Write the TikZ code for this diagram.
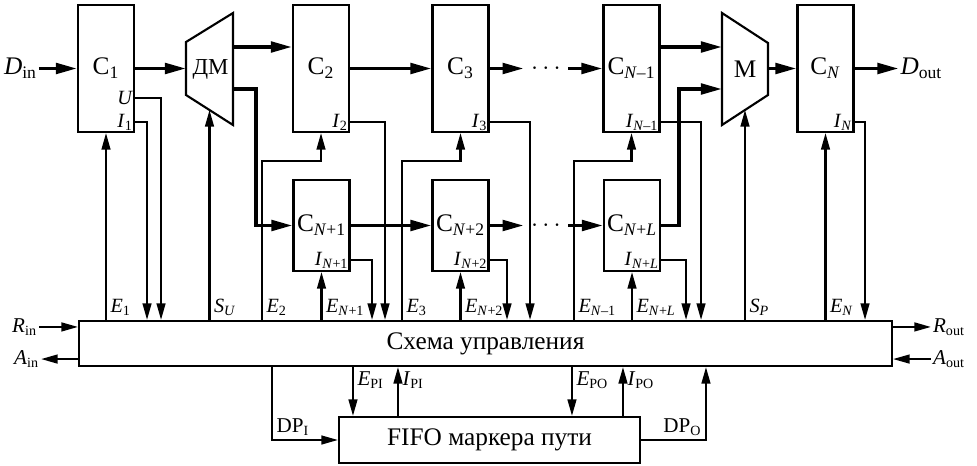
\documentclass[tikz,border=0pt]{standalone}
\usepackage{fontspec}
\setmainfont{Liberation Serif}
\usetikzlibrary{arrows.meta}
\usetikzlibrary{calc}
\usetikzlibrary{positioning}
\newcommand{\sublab}[2]{\textit{#1}\textsubscript{#2}}
\newcommand{\cel}[1]{С\textsubscript{#1}}
\newcommand{\vN}{\textit{N}}
\tikzstyle{cell}=[rectangle,draw,line width=1.2pt,minimum width=1.12cm,minimum height=2.54cm,inner sep=0pt,font=\Large]
\tikzstyle{cellb}=[cell,minimum height=1.82cm]
\tikzstyle{data}=[-{Triangle[length=12pt,width=6pt]},line width=2pt]
\tikzstyle{sarr}=[-{Triangle[length=9.5pt,width=5pt]},line width=1.2pt]
\tikzstyle{lbl}=[inner sep=2pt,font={\fontsize{11.5}{13}\selectfont}]
\tikzstyle{lblb}=[inner sep=2pt,font=\large]
\tikzstyle{dots}=[minimum width=0.88cm,inner sep=0pt,font=\Large]

\begin{document}
\begin{tikzpicture}[x=0.02cm,y=-0.02cm]
    \useasboundingbox (0,0) rectangle (977,466);
    % cells
    \node[cell] (C1) at (106,68.5) {\cel{1}};
    \node[cell] (C2) at (321,68.5) {\cel{2}};
    \node[cell] (C3) at (460.5,68.5) {\cel{3}};
    \node[cell] (CNm1) at (631.5,68.5) {\cel{\vN–1}};
    \node[cell] (CN) at (825.5,68.5) {\cel{\vN}};
    \node[cellb] (CN1) at (321.5,225.5) {\raisebox{3pt}{\cel{\vN+1}}};
    \node[cellb] (CN2) at (460.5,225.5) {\raisebox{3pt}{\cel{\vN+2}}};
    \node[cellb] (CNL) at (632,225.5) {\raisebox{3pt}{\cel{\vN+\textit{L}}}};
    \node[dots] (dotA) at (546,68.5) {$\cdots$};
    \node[dots] (dotB) at (546,225.5) {$\cdots$};
    % demultiplexer and multiplexer
    \coordinate (dmA) at (186,42);
    \coordinate (dmB) at (233,13);
    \coordinate (dmC) at (233,125);
    \coordinate (dmD) at (186,95);
    \draw[line width=1.2pt] (dmA) -- (dmB) -- (dmC) -- (dmD) -- cycle;
    \node[font={\fontsize{13}{15}\selectfont}] (DM) at (210.5,69) {ДМ};
    \coordinate (mA) at (722,13);
    \coordinate (mB) at (768,43);
    \coordinate (mC) at (768,95);
    \coordinate (mD) at (722,125);
    \draw[line width=1.2pt] (mA) -- (mB) -- (mC) -- (mD) -- cycle;
    \node[font=\Large] (M) at (745,69) {М};
    \coordinate (dmO1) at (233,47);
    \coordinate (dmO2) at (233,89);
    \coordinate (mI1) at (722,47);
    \coordinate (mI2) at (722,89);
    \coordinate (dmS) at ($(dmD)!0.5!(dmC)$);
    \coordinate (mS) at ($(mD)!0.5!(mC)$);
    % control and fifo
    \node[rectangle,draw,line width=1.2pt,minimum width=16.26cm,minimum height=0.9cm,font=\Large] (ctl) at (485.5,343.5) {Схема управления};
    \node[rectangle,draw,line width=1.2pt,minimum width=6.02cm,minimum height=0.92cm,font=\Large] (fifo) at (489.5,440) {FIFO маркера пути};
    % data path
    \node[font=\Large,inner sep=1pt,left=0.76cm of C1] (din) {\sublab{D}{in}};
    \node[font=\Large,inner sep=1pt,right=0.88cm of CN] (dout) {\sublab{D}{out}};
    \draw[data] (din) -- (C1);
    \draw[data] (C1.east) -- (C1.east -| dmA);
    \draw[data] (dmO1) -- (dmO1 -| C2.west);
    \draw[data] (dmO2) -- ++(23,0) |- (CN1.west);
    \draw[data] (C2) -- (C3);
    \draw[data] (C3) -- (dotA);
    \draw[data] (dotA) -- (CNm1);
    \draw[data] (CN1) -- (CN2);
    \draw[data] (CN2) -- (dotB);
    \draw[data] (dotB) -- (CNL);
    \draw[data] (mI1 -| CNm1.east) -- (mI1);
    \draw[data] (CNL.east) -- ++(18,0) |- (mI2);
    \draw[data] (CN.west -| mB) -- (CN.west);
    \draw[data] (CN) -- (dout);
    % ports of the cells
    \coordinate (pU) at ([shift={(0,-35)}]C1.south east);
    \coordinate (pI1) at ([shift={(0,-11)}]C1.south east);
    \coordinate (pI2) at ([shift={(0,-11)}]C2.south east);
    \coordinate (pI3) at ([shift={(0,-11)}]C3.south east);
    \coordinate (pINm1) at ([shift={(0,-11)}]CNm1.south east);
    \coordinate (pIN) at ([shift={(0,-11)}]CN.south east);
    \coordinate (pIN1) at ([shift={(0,-12)}]CN1.south east);
    \coordinate (pIN2) at ([shift={(0,-12)}]CN2.south east);
    \coordinate (pINL) at ([shift={(0,-12)}]CNL.south east);
    \node[lbl,anchor=east,inner sep=1pt] (lU) at (pU) {\textit{U}};
    \node[lbl,anchor=east,inner sep=1pt] (lI1) at (pI1) {\sublab{I}{1}};
    \node[lbl,anchor=east,inner sep=1pt] (lI2) at (pI2) {\sublab{I}{2}};
    \node[lbl,anchor=east,inner sep=1pt] (lI3) at (pI3) {\sublab{I}{3}};
    \node[lbl,anchor=east,inner sep=1pt] (lINm1) at (pINm1) {\sublab{I}{\vN–1}};
    \node[lbl,anchor=east,inner sep=1pt] (lIN) at (pIN) {\sublab{I}{\vN}};
    \node[lbl,anchor=east,inner sep=1pt] (lIN1) at (pIN1) {\sublab{I}{\vN+1}};
    \node[lbl,anchor=east,inner sep=1pt] (lIN2) at (pIN2) {\sublab{I}{\vN+2}};
    \node[lbl,anchor=east,inner sep=1pt] (lINL) at (pINL) {\sublab{I}{\vN+\textit{L}}};
    % enables, up to the cells
    \draw[sarr] (C1.south |- ctl.north) node[lbl,anchor=south west] (lE1) {\sublab{E}{1}} -- (C1.south);
    \draw[sarr] (dmS |- ctl.north) node[lbl,anchor=south west] (lSU) {\sublab{S}{\textit{U}}} -- (dmS);
    \draw[sarr] ([shift={(184,0)}]ctl.north west) node[lbl,anchor=south west] (lE2) {\sublab{E}{2}} |- ([shift={(0,28)}]C2.south) -- (C2.south);
    \draw[sarr] (CN1.south |- ctl.north) node[lbl,anchor=south west] (lEN1) {\sublab{E}{\vN+1}} -- (CN1.south);
    \draw[sarr] ([shift={(324,0)}]ctl.north west) node[lbl,anchor=south west] (lE3) {\sublab{E}{3}} |- ([shift={(0,28)}]C3.south) -- (C3.south);
    \draw[sarr] (CN2.south |- ctl.north) node[lbl,anchor=south west] (lEN2) {\sublab{E}{\vN+2}} -- (CN2.south);
    \draw[sarr] ([shift={(496,0)}]ctl.north west) node[lbl,anchor=south west] (lENm1) {\sublab{E}{\vN–1}} |- ([shift={(0,28)}]CNm1.south) -- (CNm1.south);
    \draw[sarr] (CNL.south |- ctl.north) node[lbl,anchor=south west] (lENL) {\sublab{E}{\vN+\textit{L}}} -- (CNL.south);
    \draw[sarr] (mS |- ctl.north) node[lbl,anchor=south west] (lSP) {\sublab{S}{\textit{P}}} -- (mS);
    \draw[sarr] (CN.south |- ctl.north) node[lbl,anchor=south west] (lEN) {\sublab{E}{\vN}} -- (CN.south);
    % acknowledges, down to the control
    \draw[sarr] (pI1) -| ([shift={(69,0)}]ctl.north west);
    \draw[sarr] (pU) -| ([shift={(83,0)}]ctl.north west);
    \draw[sarr] (pIN1) -| ([shift={(294,0)}]ctl.north west);
    \draw[sarr] (pI2) -| ([shift={(307,0)}]ctl.north west);
    \draw[sarr] (pIN2) -| ([shift={(429,0)}]ctl.north west);
    \draw[sarr] (pI3) -| ([shift={(452,0)}]ctl.north west);
    \draw[sarr] (pINL) -| ([shift={(608,0)}]ctl.north west);
    \draw[sarr] (pINm1) -| ([shift={(623,0)}]ctl.north west);
    \draw[sarr] (pIN) -| ([shift={(787,0)}]ctl.north west);
    % handshake
    \coordinate (pRin) at ([shift={(0,7)}]ctl.north west);
    \coordinate (pAin) at ([shift={(0,-8)}]ctl.south west);
    \coordinate (pRout) at ([shift={(0,7)}]ctl.north east);
    \coordinate (pAout) at ([shift={(0,-8)}]ctl.south east);
    \node[lblb,anchor=east,inner sep=1pt] (rin) at ([shift={(-39,0)}]pRin) {\sublab{R}{in}};
    \node[lblb,anchor=east,inner sep=1pt] (ain) at ([shift={(-37,0)}]pAin) {\sublab{A}{in}};
    \node[lblb,anchor=west,inner sep=1pt] (rout) at ([shift={(38,0)}]pRout) {\sublab{R}{out}};
    \node[lblb,anchor=west,inner sep=1pt] (aout) at ([shift={(38,0)}]pAout) {\sublab{A}{out}};
    \draw[sarr] (rin) -- (pRin);
    \draw[sarr] (pAin) -- (ain);
    \draw[sarr] (pRout) -- (rout);
    \draw[sarr] (aout) -- (pAout);
    % path marker fifo
    \coordinate (pEPI) at ([shift={(15,0)}]fifo.north west);
    \coordinate (pIPI) at ([shift={(60,0)}]fifo.north west);
    \coordinate (pEPO) at ([shift={(234,0)}]fifo.north west);
    \coordinate (pIPO) at ([shift={(285,0)}]fifo.north west);
    \draw[sarr] (pEPI |- ctl.south) node[lblb,anchor=north west] (lEPI) {\sublab{E}{PI}} -- (pEPI);
    \draw[sarr] (pIPI) -- (pIPI |- ctl.south) node[lblb,anchor=north west] (lIPI) {\sublab{I}{PI}};
    \draw[sarr] (pEPO |- ctl.south) node[lblb,anchor=north west] (lEPO) {\sublab{E}{PO}} -- (pEPO);
    \draw[sarr] (pIPO) -- (pIPO |- ctl.south) node[lblb,anchor=north west] (lIPO) {\sublab{I}{PO}};
    \draw[sarr] ([shift={(194,0)}]ctl.south west) |- node[lblb,pos=0.5,anchor=south west] (lDPI) {DP\textsubscript{I}} (fifo.west);
    \draw[sarr] (fifo.east) -| node[lblb,pos=0.5,anchor=south east] (lDPO) {DP\textsubscript{O}} ([shift={(-187,0)}]ctl.south east);
\end{tikzpicture}
\end{document}
